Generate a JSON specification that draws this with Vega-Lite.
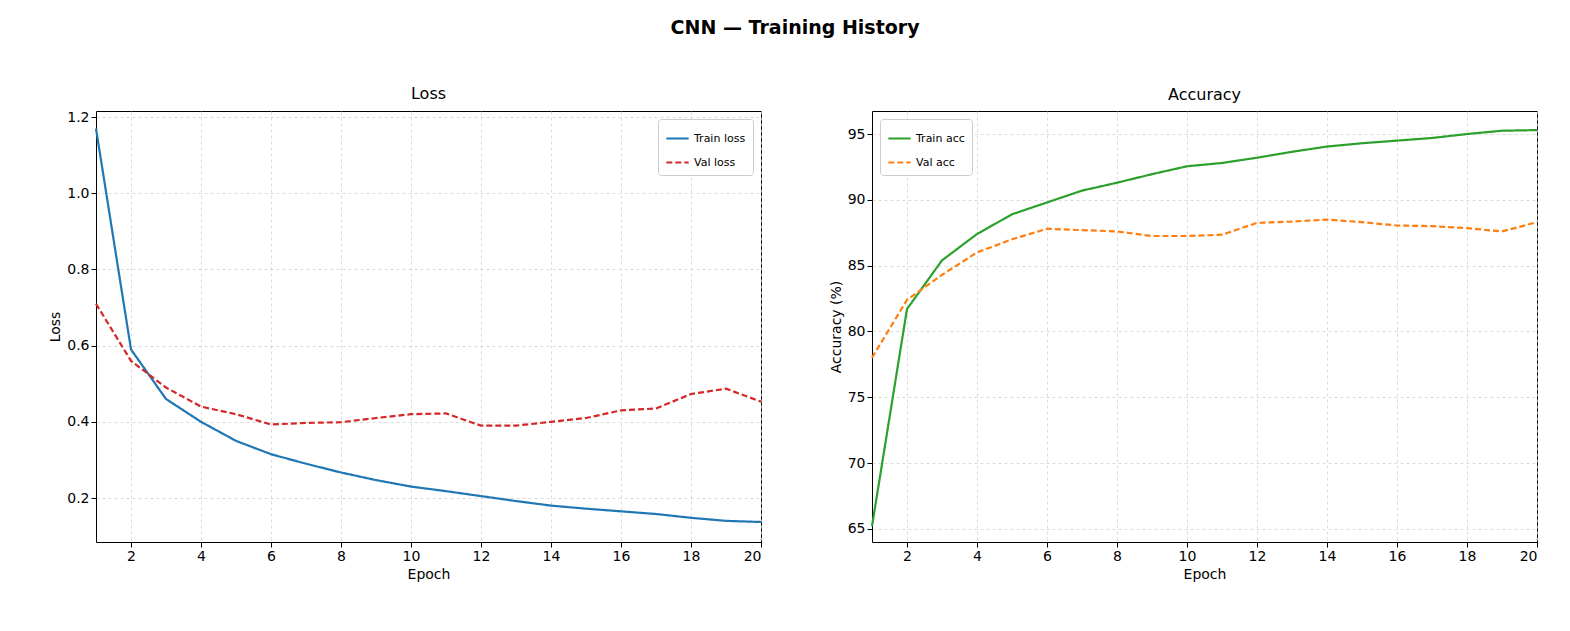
{
  "$schema": "https://vega.github.io/schema/vega-lite/v6.json",
  "padding": {"left": 48, "top": 18, "right": 20, "bottom": 10},
  "background": "white",
  "title": {"text": "CNN — Training History", "fontSize": 19, "fontWeight": "bold", "font": "DejaVu Sans", "offset": 48, "anchor": "middle"},
  "datasets": {
    "loss": [
      {"epoch": 1, "value": 1.17, "series": "Train loss"}, {"epoch": 2, "value": 0.59, "series": "Train loss"},
      {"epoch": 3, "value": 0.46, "series": "Train loss"}, {"epoch": 4, "value": 0.40, "series": "Train loss"},
      {"epoch": 5, "value": 0.35, "series": "Train loss"}, {"epoch": 6, "value": 0.315, "series": "Train loss"},
      {"epoch": 7, "value": 0.29, "series": "Train loss"}, {"epoch": 8, "value": 0.267, "series": "Train loss"},
      {"epoch": 9, "value": 0.247, "series": "Train loss"}, {"epoch": 10, "value": 0.23, "series": "Train loss"},
      {"epoch": 11, "value": 0.218, "series": "Train loss"}, {"epoch": 12, "value": 0.205, "series": "Train loss"},
      {"epoch": 13, "value": 0.192, "series": "Train loss"}, {"epoch": 14, "value": 0.18, "series": "Train loss"},
      {"epoch": 15, "value": 0.172, "series": "Train loss"}, {"epoch": 16, "value": 0.165, "series": "Train loss"},
      {"epoch": 17, "value": 0.158, "series": "Train loss"}, {"epoch": 18, "value": 0.148, "series": "Train loss"},
      {"epoch": 19, "value": 0.14, "series": "Train loss"}, {"epoch": 20, "value": 0.137, "series": "Train loss"},
      {"epoch": 1, "value": 0.71, "series": "Val loss"}, {"epoch": 2, "value": 0.56, "series": "Val loss"},
      {"epoch": 3, "value": 0.49, "series": "Val loss"}, {"epoch": 4, "value": 0.44, "series": "Val loss"},
      {"epoch": 5, "value": 0.42, "series": "Val loss"}, {"epoch": 6, "value": 0.393, "series": "Val loss"},
      {"epoch": 7, "value": 0.397, "series": "Val loss"}, {"epoch": 8, "value": 0.399, "series": "Val loss"},
      {"epoch": 9, "value": 0.41, "series": "Val loss"}, {"epoch": 10, "value": 0.42, "series": "Val loss"},
      {"epoch": 11, "value": 0.422, "series": "Val loss"}, {"epoch": 12, "value": 0.39, "series": "Val loss"},
      {"epoch": 13, "value": 0.39, "series": "Val loss"}, {"epoch": 14, "value": 0.40, "series": "Val loss"},
      {"epoch": 15, "value": 0.41, "series": "Val loss"}, {"epoch": 16, "value": 0.43, "series": "Val loss"},
      {"epoch": 17, "value": 0.435, "series": "Val loss"}, {"epoch": 18, "value": 0.473, "series": "Val loss"},
      {"epoch": 19, "value": 0.487, "series": "Val loss"}, {"epoch": 20, "value": 0.453, "series": "Val loss"}
    ],
    "acc": [
      {"epoch": 1, "value": 65.2, "series": "Train acc"}, {"epoch": 2, "value": 81.7, "series": "Train acc"},
      {"epoch": 3, "value": 85.4, "series": "Train acc"}, {"epoch": 4, "value": 87.4, "series": "Train acc"},
      {"epoch": 5, "value": 88.9, "series": "Train acc"}, {"epoch": 6, "value": 89.8, "series": "Train acc"},
      {"epoch": 7, "value": 90.7, "series": "Train acc"}, {"epoch": 8, "value": 91.3, "series": "Train acc"},
      {"epoch": 9, "value": 91.95, "series": "Train acc"}, {"epoch": 10, "value": 92.55, "series": "Train acc"},
      {"epoch": 11, "value": 92.8, "series": "Train acc"}, {"epoch": 12, "value": 93.2, "series": "Train acc"},
      {"epoch": 13, "value": 93.65, "series": "Train acc"}, {"epoch": 14, "value": 94.05, "series": "Train acc"},
      {"epoch": 15, "value": 94.3, "series": "Train acc"}, {"epoch": 16, "value": 94.5, "series": "Train acc"},
      {"epoch": 17, "value": 94.7, "series": "Train acc"}, {"epoch": 18, "value": 95.0, "series": "Train acc"},
      {"epoch": 19, "value": 95.25, "series": "Train acc"}, {"epoch": 20, "value": 95.3, "series": "Train acc"},
      {"epoch": 1, "value": 78.0, "series": "Val acc"}, {"epoch": 2, "value": 82.4, "series": "Val acc"},
      {"epoch": 3, "value": 84.3, "series": "Val acc"}, {"epoch": 4, "value": 86.0, "series": "Val acc"},
      {"epoch": 5, "value": 87.0, "series": "Val acc"}, {"epoch": 6, "value": 87.8, "series": "Val acc"},
      {"epoch": 7, "value": 87.7, "series": "Val acc"}, {"epoch": 8, "value": 87.6, "series": "Val acc"},
      {"epoch": 9, "value": 87.25, "series": "Val acc"}, {"epoch": 10, "value": 87.25, "series": "Val acc"},
      {"epoch": 11, "value": 87.35, "series": "Val acc"}, {"epoch": 12, "value": 88.25, "series": "Val acc"},
      {"epoch": 13, "value": 88.35, "series": "Val acc"}, {"epoch": 14, "value": 88.5, "series": "Val acc"},
      {"epoch": 15, "value": 88.3, "series": "Val acc"}, {"epoch": 16, "value": 88.05, "series": "Val acc"},
      {"epoch": 17, "value": 88.0, "series": "Val acc"}, {"epoch": 18, "value": 87.85, "series": "Val acc"},
      {"epoch": 19, "value": 87.6, "series": "Val acc"}, {"epoch": 20, "value": 88.3, "series": "Val acc"}
    ]
  },
  "spacing": 62,
  "resolve": {"scale": {"color": "independent", "strokeDash": "independent"}},
  "hconcat": [
    {
      "width": 665,
      "height": 431,
      "title": {"text": "Loss", "fontSize": 16, "fontWeight": "normal", "offset": 8},
      "data": {"name": "loss"},
      "mark": {"type": "line", "strokeWidth": 2.2},
      "encoding": {
        "x": {"field": "epoch", "type": "quantitative", "title": "Epoch", "scale": {"domain": [1, 20], "nice": false, "zero": false},
              "axis": {"values": [2, 4, 6, 8, 10, 12, 14, 16, 18, 20]}},
        "y": {"field": "value", "type": "quantitative", "title": "Loss", "scale": {"domain": [0.0845, 1.216], "nice": false},
              "axis": {"values": [0.2, 0.4, 0.6, 0.8, 1.0, 1.2], "format": ".1f"}},
        "color": {"field": "series", "type": "nominal", "scale": {"domain": ["Train loss", "Val loss"], "range": ["#1f77b4", "#d62728"]},
                  "legend": {"orient": "top-right", "title": null}},
        "strokeDash": {"field": "series", "type": "nominal", "scale": {"domain": ["Train loss", "Val loss"], "range": [[1, 0], [6, 3]]},
                       "legend": {"orient": "top-right", "title": null}}
      }
    },
    {
      "width": 665,
      "height": 431,
      "title": {"text": "Accuracy", "fontSize": 16, "fontWeight": "normal", "offset": 8},
      "data": {"name": "acc"},
      "mark": {"type": "line", "strokeWidth": 2.2},
      "encoding": {
        "x": {"field": "epoch", "type": "quantitative", "title": "Epoch", "scale": {"domain": [1, 20], "nice": false, "zero": false},
              "axis": {"values": [2, 4, 6, 8, 10, 12, 14, 16, 18, 20]}},
        "y": {"field": "value", "type": "quantitative", "title": "Accuracy (%)", "scale": {"domain": [64.0, 96.75], "nice": false, "zero": false},
              "axis": {"values": [65, 70, 75, 80, 85, 90, 95]}},
        "color": {"field": "series", "type": "nominal", "scale": {"domain": ["Train acc", "Val acc"], "range": ["#2ca02c", "#ff7f0e"]},
                  "legend": {"orient": "top-left", "title": null}},
        "strokeDash": {"field": "series", "type": "nominal", "scale": {"domain": ["Train acc", "Val acc"], "range": [[1, 0], [6, 3]]},
                       "legend": {"orient": "top-left", "title": null}}
      }
    }
  ],
  "config": {
    "font": "DejaVu Sans",
    "view": {"stroke": "black", "strokeWidth": 1},
    "axis": {
      "grid": true, "gridColor": "#cccccc", "gridDash": [3, 3], "gridWidth": 0.7,
      "domain": false, "tickColor": "black", "tickSize": 5,
      "labelFontSize": 14, "labelColor": "black", "titleFontSize": 14, "titleFontWeight": "normal", "titleColor": "black"
    },
    "legend": {
      "labelFontSize": 11, "symbolType": "stroke", "symbolSize": 500, "symbolStrokeWidth": 2.2,
      "strokeColor": "#cccccc", "fillColor": "white", "padding": 7, "cornerRadius": 3, "offset": 8, "rowPadding": 6
    }
  }
}
